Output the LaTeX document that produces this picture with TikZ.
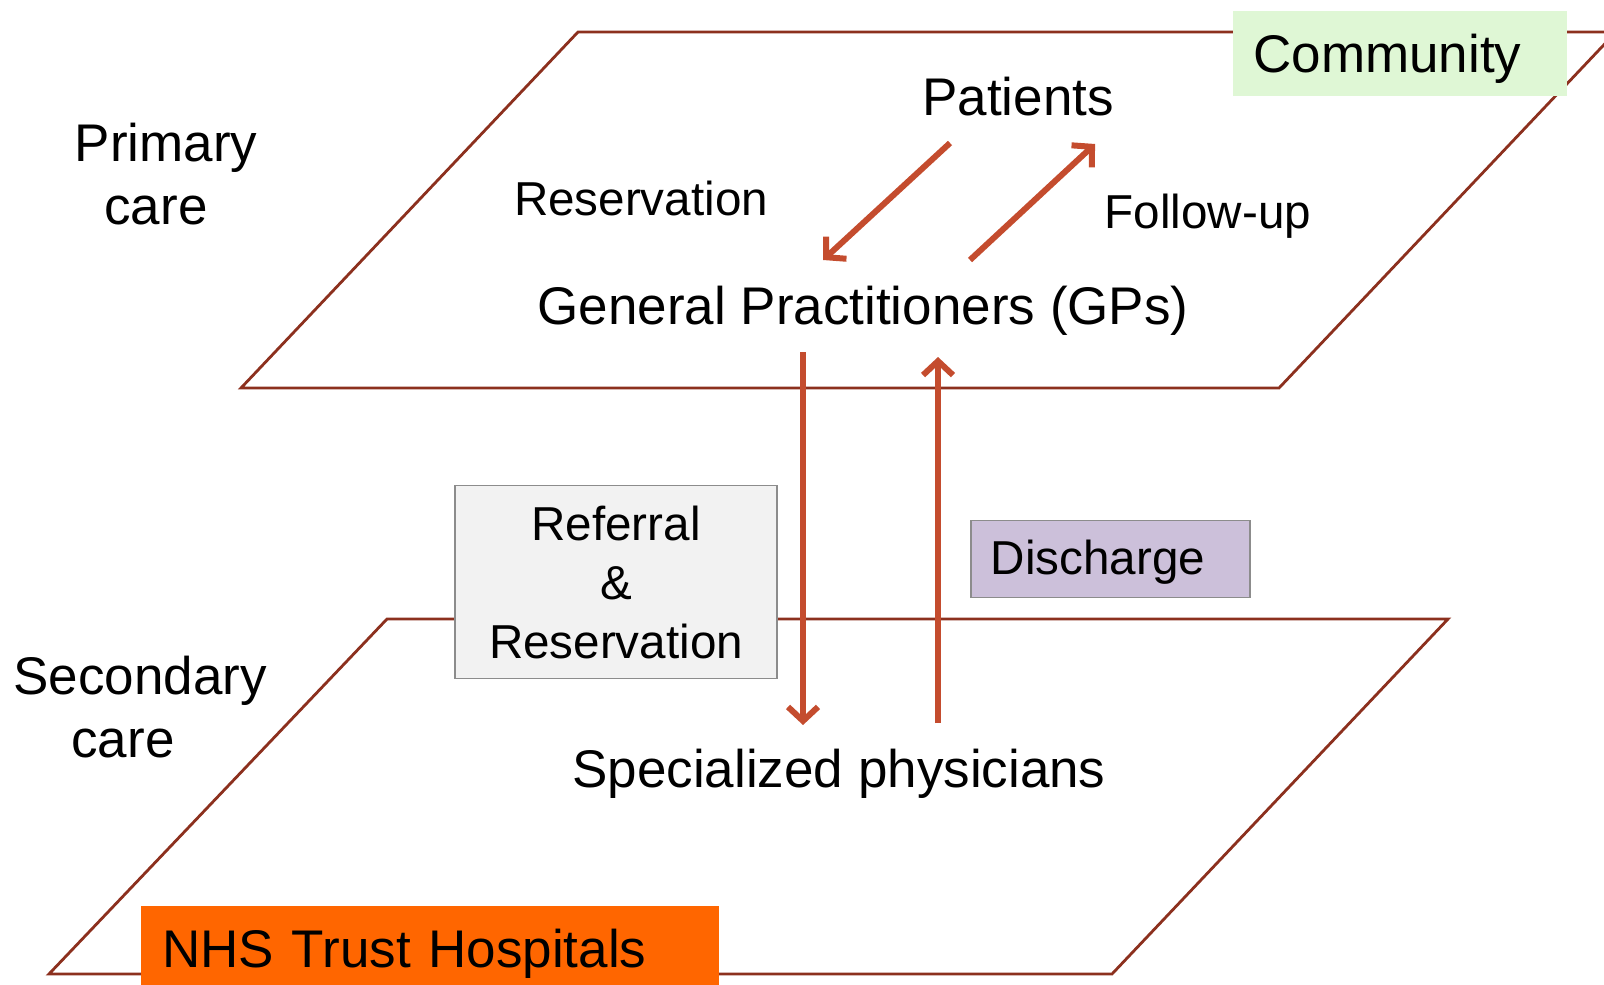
\documentclass[tikz,border=0pt]{standalone}
\usepackage{fontspec}
\setmainfont{Liberation Sans}
\usetikzlibrary{arrows.meta}
\definecolor{planecol}{RGB}{140,48,30}
\definecolor{arrowcol}{RGB}{196,76,46}
\definecolor{commcol}{RGB}{223,247,213}
\definecolor{nhscol}{RGB}{255,102,0}
\definecolor{refcol}{RGB}{242,242,242}
\definecolor{discol}{RGB}{204,192,218}
\colorlet{boxline}{black!45}
\newcommand\bigfont{\fontsize{26.5}{31.5}\selectfont}
\newcommand\smallfont{\fontsize{23.8}{29.5}\selectfont}
\tikzset{
  plane/.style={draw=planecol,line width=1.4pt},
  flow/.style={arrowcol,line width=3pt,
               -{Straight Barb[length=7pt,width=15pt]}},
  bigtxt/.style={font=\bigfont,inner sep=0pt},
  smalltxt/.style={font=\smallfont,inner sep=0pt},
  tagbox/.style={draw=boxline,line width=0.8pt},
}

\begin{document}
\begin{tikzpicture}[x=0.5pt,y=-0.5pt]
  \clip (0,0) rectangle (1604,984);
  % PLANES
  \coordinate (UBL) at (241,388);
  \coordinate (UBR) at (1279,388);
  \coordinate (UTR) at (1616,32);
  \coordinate (UTL) at (578,32);
  \coordinate (LBL) at (49,974);
  \coordinate (LBR) at (1112,974);
  \coordinate (LTR) at (1448,619);
  \coordinate (LTL) at (387,619);
  \draw[plane] (UBL) -- (UBR) -- (UTR) -- (UTL) -- cycle;
  \draw[plane] (LBL) -- (LBR) -- (LTR) -- (LTL) -- cycle;

  % TEXTS
  \node[bigtxt] (patients) at (1018,97) {Patients};
  \node[smalltxt] (resv) at (641,198) {Reservation};
  \node[smalltxt] (follow) at (1208,216) {Follow-up};
  \node[bigtxt] (gps) at (863,311) {General Practitioners (GPs)};
  \node[bigtxt] (spec) at (839,774) {Specialized physicians};
  \node[bigtxt,align=center] (primary) at (166,174) {Primary\\care\hspace*{10pt}};
  \node[bigtxt,align=center] (secondary) at (140,707) {Secondary\\care\hspace*{17pt}};

  % ARROWS
  \coordinate (resvS) at (950,143);
  \coordinate (resvE) at (823,260);
  \coordinate (follS) at (970,260);
  \coordinate (follE) at (1095,144);
  \coordinate (refS) at (803,352);
  \coordinate (refE) at (803,725);
  \coordinate (disS) at (938,723);
  \coordinate (disE) at (938,357);
  \draw[flow] (resvS) -- (resvE);
  \draw[flow] (follS) -- (follE);
  \draw[flow] (refS) -- (refE);
  \draw[flow] (disS) -- (disE);

  % BOXES
  \node[bigtxt,fill=commcol,inner xsep=10pt,text width=147pt,
        text height=30.5pt,text depth=12pt,anchor=north west] (community) at (1233,11) {Community};
  \node[bigtxt,fill=nhscol,inner xsep=10.5pt,text width=268pt,
        text height=30.5pt,text depth=12.5pt,anchor=north west] (nhs) at (141,906) {NHS Trust Hospitals};
  \node[smalltxt,tagbox,fill=refcol,align=center,minimum width=161pt,
        minimum height=96.5pt] (referral) at (616,582) {Referral\\\&\\Reservation};
  \node[smalltxt,tagbox,fill=discol,inner xsep=10pt,text width=119.5pt,
        text height=27pt,text depth=11.5pt,anchor=north west] (discharge) at (970,519.5) {Discharge};
\end{tikzpicture}
\end{document}
